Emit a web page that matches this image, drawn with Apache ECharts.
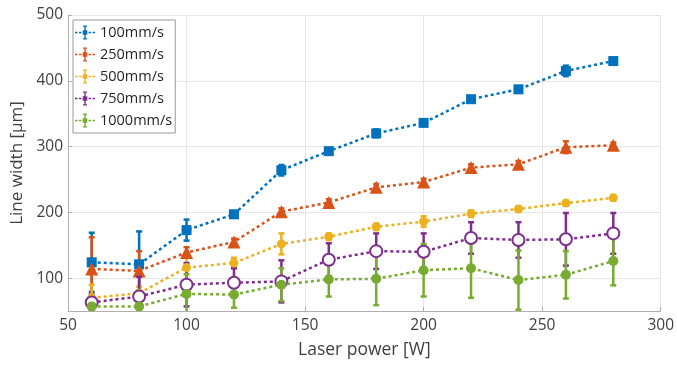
<!DOCTYPE html>
<html>
<head>
<meta charset="utf-8">
<script src="https://cdn.jsdelivr.net/npm/echarts@6/dist/echarts.min.js"></script>
<style>
  html, body { margin: 0; padding: 0; background: #fff; }
  #chart { width: 677px; height: 365px; }
</style>
</head>
<body>
<div id="chart"></div>
<script>
// laser power [W]
const powers = [60, 80, 100, 120, 140, 160, 180, 200, 220, 240, 260, 280]

// line width [um] and error (half length) per scan speed
const names = ['100mm/s', '250mm/s', '500mm/s', '750mm/s', '1000mm/s']
const w100 = [124, 121, 173, 197, 264, 293, 320, 336, 372, 387, 415, 430]
const e100 = [45, 50, 16, 5, 8, 4, 6, 4, 4, 4, 8, 4]
const w250 = [114, 111, 139, 155, 201, 215, 238, 246, 268, 273, 299, 302]
const e250 = [48, 30, 8, 5, 5, 5, 5, 5, 5, 5, 9, 4]
const w500 = [70, 77, 116, 123, 152, 163, 178, 186, 198, 205, 214, 222]
const e500 = [20, 10, 22, 8, 16, 5, 5, 8, 5, 4, 4, 4]
const w750 = [63, 72, 90, 93, 95, 128, 141, 140, 161, 158, 159, 168]
const e750 = [12, 30, 33, 22, 32, 25, 27, 28, 24, 27, 40, 31]
const w1000 = [57, 57, 76, 75, 90, 98, 99, 112, 115, 97, 105, 126]
const e1000 = [12, 5, 30, 20, 25, 26, 40, 40, 45, 45, 36, 37]

const colors = ['#0072BD', '#D95319', '#EDB120', '#7E2F8E', '#77AC30']
const values = [w100, w250, w500, w750, w1000]
const errors = [e100, e250, e500, e750, e1000]
const symbols = ['rect', 'triangle', 'circle', 'emptyCircle', 'circle']
const sizes = [10, 13, 9, 12, 10]

// legend glyph: dotted line with a small marker and an error bar
const legendIcon = 'path://M0,6.3H2.5V7.7H0Z M4,6.3H6.5V7.7H4Z M13.5,6.3H16V7.7H13.5Z M17.5,6.3H20V7.7H17.5Z ' +
  'M9.3,0H10.7V14H9.3Z M8,0H12V1.2H8Z M8,12.8H12V14H8Z M7.7,4.7H12.3V9.3H7.7Z'

const font = '"Open Sans", "Noto Sans", sans-serif'

const series = []
names.forEach(function (name, k) {
  // error bars
  series.push({
    name: name + ' err',
    type: 'custom',
    clip: true,
    z: 2 + k,
    data: powers.map((p, i) => [p, values[k][i], errors[k][i]]),
    renderItem: function (params, api) {
      const x = api.value(0), y = api.value(1), e = api.value(2)
      const top = api.coord([x, y + e])
      const bot = api.coord([x, y - e])
      const st = { stroke: colors[k], lineWidth: 2.5 }
      return {
        type: 'group',
        children: [
          { type: 'line', shape: { x1: top[0], y1: top[1], x2: bot[0], y2: bot[1] }, style: st },
          { type: 'line', shape: { x1: top[0] - 3, y1: top[1], x2: top[0] + 3, y2: top[1] }, style: st },
          { type: 'line', shape: { x1: bot[0] - 3, y1: bot[1], x2: bot[0] + 3, y2: bot[1] }, style: st }
        ]
      }
    }
  })
  series.push({
    name: name,
    type: 'line',
    z: 3 + k,
    data: powers.map((p, i) => [p, values[k][i]]),
    symbol: symbols[k],
    symbolSize: sizes[k],
    showAllSymbol: true,
    lineStyle: { color: colors[k], width: 2.5, type: [3, 3] },
    itemStyle: { color: colors[k], borderColor: colors[k], borderWidth: symbols[k] === 'emptyCircle' ? 2.5 : 0 },
    emphasis: { disabled: true }
  })
})

const chart = echarts.init(document.getElementById('chart'))
chart.setOption({
  animation: false,
  color: colors,
  textStyle: { fontFamily: font },
  grid: { left: 68, right: 10, top: 15, bottom: 54 },
  legend: {
    data: names.map(n => ({ name: n, icon: legendIcon })),
    orient: 'vertical',
    left: 73,
    top: 20,
    itemWidth: 20,
    itemHeight: 14,
    itemGap: 7,
    padding: [5, 3, 5, 2],
    backgroundColor: '#fff',
    borderColor: '#999',
    borderWidth: 1,
    itemStyle: { borderWidth: 0 },
    textStyle: { fontSize: 14.5, color: '#262626', fontFamily: font }
  },
  xAxis: {
    type: 'value',
    min: 50,
    max: 300,
    interval: 50,
    name: 'Laser power [W]',
    nameLocation: 'middle',
    nameGap: 30,
    nameTextStyle: { fontSize: 17.5, color: '#404040' },
    axisLine: { lineStyle: { color: '#b0b0b0' } },
    axisTick: { inside: true, length: 4, lineStyle: { color: '#b0b0b0' } },
    axisLabel: { fontSize: 15.5, color: '#404040', margin: 7 },
    splitLine: { lineStyle: { color: '#e6e6e6' } }
  },
  yAxis: {
    type: 'value',
    min: 50,
    max: 500,
    splitNumber: 5,
    name: 'Line width [μm]',
    nameLocation: 'middle',
    nameGap: 38,
    nameTextStyle: { fontSize: 17, color: '#404040' },
    axisLine: { show: true, lineStyle: { color: '#b0b0b0' } },
    axisTick: { show: true, inside: true, length: 4, lineStyle: { color: '#b0b0b0' } },
    axisLabel: { fontSize: 15.5, color: '#404040', margin: 5, showMinLabel: false },
    splitLine: { lineStyle: { color: '#e6e6e6' } }
  },
  series: series
})
</script>
</body>
</html>
